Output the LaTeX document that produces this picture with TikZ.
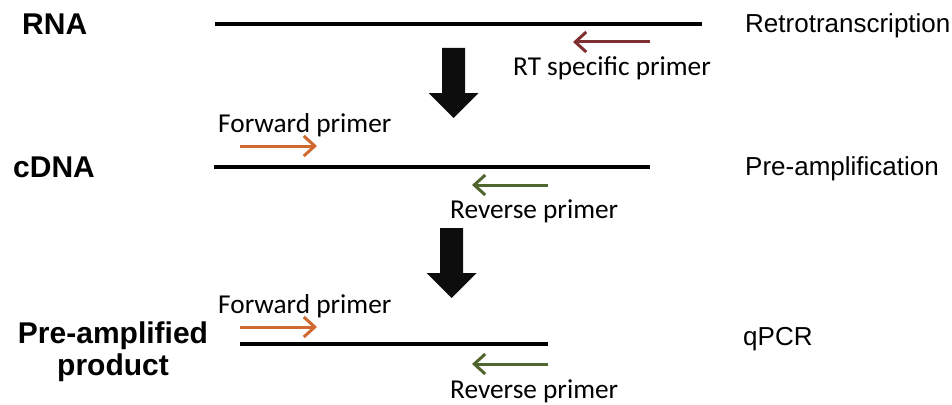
\documentclass[tikz,border=0pt]{standalone}
\usepackage{fontspec}
\setmainfont{Liberation Sans}
\newfontfamily\calibfont{Carlito}
\usetikzlibrary{arrows.meta,positioning}
\definecolor{RTRed}{HTML}{7F2F30}
\definecolor{FwdOrange}{HTML}{D0692F}
\definecolor{RevGreen}{HTML}{50662E}
\tikzset{
    stage/.style = {font=\fontsize{30}{32}\selectfont\bfseries, inner sep=0pt},
    process/.style = {font=\fontsize{26}{30}\selectfont, inner sep=0pt, anchor=base west},
    primername/.style = {font=\calibfont\fontsize{27.3}{30}\selectfont, inner sep=0pt, anchor=base west},
    input/.style = {coordinate},
    strand/.style = {draw, line width=3.5pt},
    primer/.style = {draw, line width=3pt, -{Straight Barb[length=11pt,width=20pt]}}
}
\def\blockarrow{%
    +(-11.5,0) -- +(11.5,0) -- +(11.5,45) -- +(25,45) -- +(0,70) -- +(-25,45) -- +(-11.5,45) -- cycle
}

\begin{document}
\begin{tikzpicture}[x=1pt, y=-1pt]
    \useasboundingbox (0,0) rectangle (952,404);
    % stages
    \node [stage, anchor=base west] (rna) at (22,35) {RNA};
    \node [stage, anchor=base west] (cdna) at (13,177) {cDNA};
    \node [stage, anchor=base, align=center] (product) at (113,375) {Pre-amplified\\product};
    \node [process] (retro) at (745,33) {Retrotranscription};
    \node [process] (preamp) at (745,175) {Pre-amplification};
    \node [process] (qpcr) at (743,345) {qPCR};
    % strands
    \node [input, name=rnaL] at (215,24) {};
    \node [input, name=rnaR] at (702,24) {};
    \node [input, name=cdnaL] at (214,167) {};
    \node [input, name=cdnaR] at (650,167) {};
    \node [input, name=prodL] at (240,344) {};
    \node [input, name=prodR] at (548,344) {};
    \draw [strand] (rnaL) -- (rnaR);
    \draw [strand] (cdnaL) -- (cdnaR);
    \draw [strand] (prodL) -- (prodR);
    % RT primer
    \node [input, name=rtS] at (650,42) {};
    \node [input, name=rtE] at (573,42) {};
    \draw [primer, RTRed] (rtS) -- (rtE);
    \node [primername] (rtname) at (513,75) {RT specific primer};
    % pre-amplification and qPCR primers
    \foreach \a/\fy/\ry in {1/146/185, 2/327/364}{
        \node [input, name=fwdS\a] at (240,\fy) {};
        \node [input, name=fwdE\a] at (317,\fy) {};
        \node [input, name=revS\a] at (548,\ry) {};
        \node [input, name=revE\a] at (472,\ry) {};
        \draw [primer, FwdOrange] (fwdS\a) -- (fwdE\a);
        \draw [primer, RevGreen] (revS\a) -- (revE\a);
    }
    \node [primername] (fwdname1) at (218,132) {Forward primer};
    \node [primername] (revname1) at (450,218) {Reverse primer};
    \node [primername] (fwdname2) at (218,313) {Forward primer};
    \node [primername] (revname2) at (450,398) {Reverse primer};
    % big arrows
    \node [input, name=bigA] at (453.5,48) {};
    \node [input, name=bigB] at (451.5,228) {};
    \fill [black!95] (bigA) \blockarrow;
    \fill [black!95] (bigB) \blockarrow;
\end{tikzpicture}
\end{document}
